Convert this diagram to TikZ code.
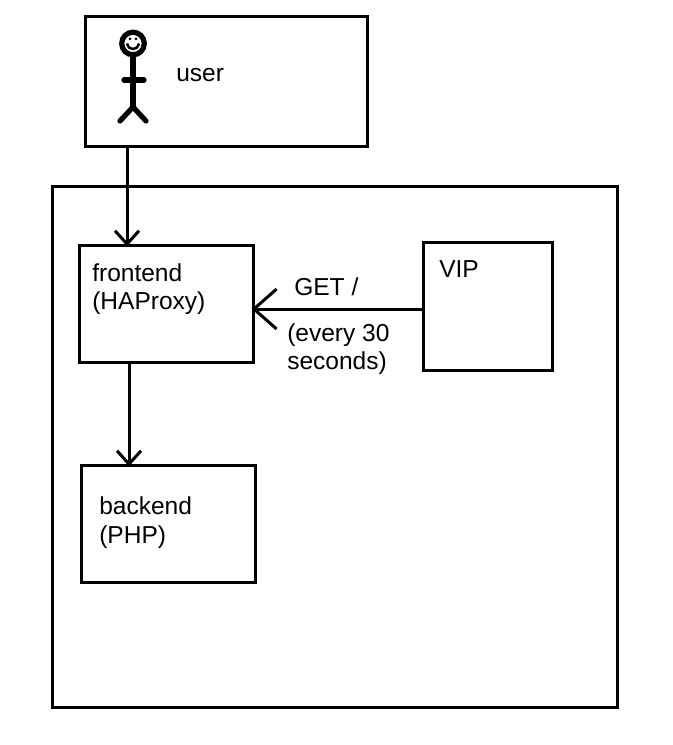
\documentclass[tikz,border=0pt]{standalone}
\usepackage{fontspec}
\setmainfont{Liberation Sans}
\usetikzlibrary{arrows.meta, positioning}

\begin{document}
\begin{tikzpicture}[
        x=0.75pt, y=-0.75pt,
        box/.style={
          draw=black,
          anchor=north west,
          inner sep=0pt,
          outer sep=0pt,
          line width=2.25pt,
        },
        lbl/.style={
          anchor=base west,
          inner sep=0pt,
          align=left,
          font=\fontsize{18.4}{21}\selectfont,
        },
        arr/.style={-{Straight Barb[length=10pt, width=18pt, line width=2.25pt]}, line width=2.25pt, shorten >=-1pt},
        bigarr/.style={-{Straight Barb[length=17pt, width=30pt, line width=2.25pt]}, line width=2.25pt, shorten >=-1pt},
        stick/.style={line width=3.9pt, line cap=round},
      ]
        \useasboundingbox (0,0) rectangle (673,745);
        \fill[white] (0,0) rectangle (673,745);

        \node[box, minimum width=211.5pt, minimum height=97.5pt] (user) at (85,16.7) {};
        \node[box, minimum width=424pt, minimum height=390.4pt] (cluster) at (52,186.5) {};
        \node[box, minimum width=130.5pt, minimum height=87.75pt] (frontend) at (79,245) {};
        \node[box, minimum width=130.5pt, minimum height=87.75pt] (backend) at (81,465) {};
        \node[box, minimum width=96.75pt, minimum height=96pt] (vip) at (423,242) {};

        % labels
        \node[lbl] (userlbl) at (176,82) {user};
        \node[lbl] (frontendlbl) at (92,281) {frontend};
        \node[lbl] (haproxylbl) at (92,309) {(HAProxy)};
        \node[lbl] (backendlbl) at (99,514) {backend};
        \node[lbl] (phplbl) at (99,543) {(PHP)};
        \node[lbl] (viplbl) at (439,277) {VIP};
        \node[lbl] (getlbl) at (294,295) {GET /};
        \node[lbl] (everylbl) at (287,341) {(every 30};
        \node[lbl] (secondslbl) at (287,369) {seconds)};

        % stick figure
        \draw[line width=3.9pt] (133,43.5) circle (11.3);
        \draw[stick] (133,56) -- (133,107);
        \draw[stick] (124,80) -- (144,80);
        \draw[stick] (120,121) -- (133,107) -- (146,121);
        \fill (130,39) circle (1.5);
        \fill (136,39) circle (1.5);
        \draw[line width=1.9pt] (127,43.5) .. controls (129,51) and (137,51) .. (139,43.5);

        \draw[arr] ([xshift=31.5pt]user.south west) -- ([xshift=36pt]frontend.north west);
        \draw[arr] ([xshift=37.5pt]frontend.south west) -- ([xshift=36pt]backend.north west);
        \draw[bigarr] ([yshift=-50.25pt]vip.north west) -- ([yshift=-48pt]frontend.north east);
\end{tikzpicture}
\end{document}
